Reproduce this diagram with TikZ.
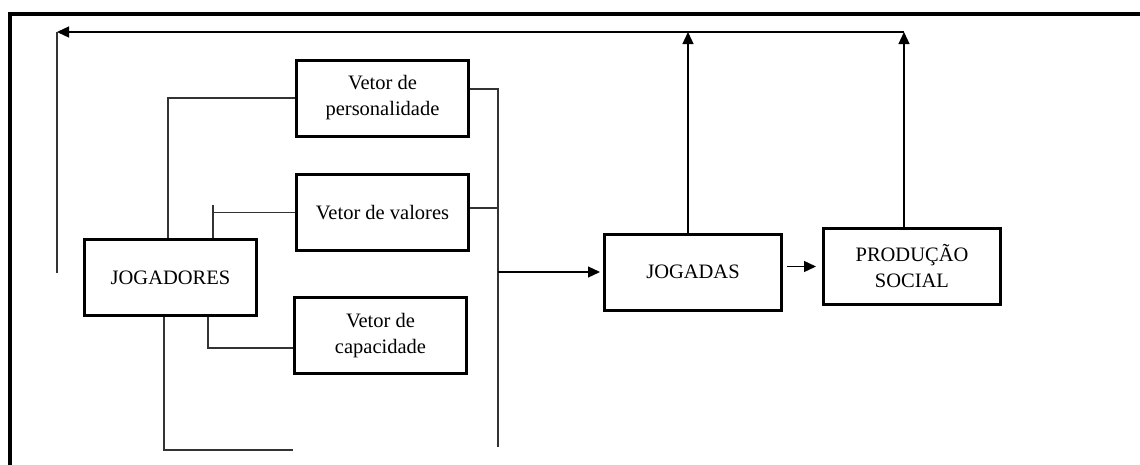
\documentclass[tikz,border=0pt]{standalone}
\usepackage{fontspec}
\setmainfont{Liberation Serif}
\usetikzlibrary{arrows.meta}
\tikzstyle{box}=[rectangle,draw=black,line width=3pt,
                 minimum width=172pt,minimum height=76pt,
                 align=center,font=\fontsize{20.5}{26}\selectfont]
\tikzstyle{wire}=[line width=1.2pt,draw=black!80]
\tikzstyle{arr}=[line width=1.3pt,draw=black,
                 -{Triangle[length=12pt,width=11pt]}]

\begin{document}
\begin{tikzpicture}[x=1pt,y=-1pt]
    \useasboundingbox (0,0) rectangle (1140,464);
    % frame
    \draw[line width=4pt] (9.5,470) -- (9.5,13.5) -- (1145,13.5);
    % boxes
    \node (pers) at (382.5,  98) [box]{Vetor de\\personalidade};
    \node (val)  at (382.5,212.5) [box]{Vetor de valores};
    \node (cap)  at (380.5,335.5) [box]{Vetor de\\capacidade};
    \node (jog)  at (170.5,277.5) [box]{JOGADORES};
    \node (jgd)  at (693,  272) [box,minimum width=177pt]{JOGADAS};
    \node (prod) at (912,266.5) [box,minimum width=177pt]{PRODUÇÃO\\SOCIAL};
    \coordinate (tl)     at (57,32);
    \coordinate (fbend)  at (57,273);
    \coordinate (loose)  at (293,450);
    \coordinate (bustop) at (498,89);
    \coordinate (busend) at (498,447);
    \coordinate (upA) at ([xshift=-5pt]jgd.north);
    \coordinate (upB) at ([xshift=-8pt]prod.north);
    % left side
    \draw[wire] (pers.west) -| ([xshift=-2.5pt]jog.north);
    \draw[wire] (val.west) -| ([xshift=42.5pt]jog.north);
    \draw[wire] ([xshift=42.5pt]jog.north) -- ++(0,-33);
    \draw[wire] ([xshift=37.5pt]jog.south) |- ([yshift=-12.5pt]cap.west);
    \draw[wire] ([xshift=-6.5pt]jog.south) |- (loose);
    % right side
    \draw[wire] ([yshift=9pt]pers.east) -- (bustop) -- (busend);
    \draw[wire] ([yshift=4.5pt]val.east) -| (bustop);
    \draw[arr,shorten >=3pt] (jgd.west -| bustop) -- (jgd.west);
    \draw[arr,shorten <=4pt,shorten >=6pt] (jgd.east |- prod.west) -- (prod.west);
    % feedback
    \draw[arr] (upA) -- (upA |- tl);
    \draw[arr] (upB) -- (upB |- tl);
    \draw[arr] (upB |- tl) -- (tl);
    \draw[wire] (fbend) -- (tl);
  \end{tikzpicture}
\end{document}
